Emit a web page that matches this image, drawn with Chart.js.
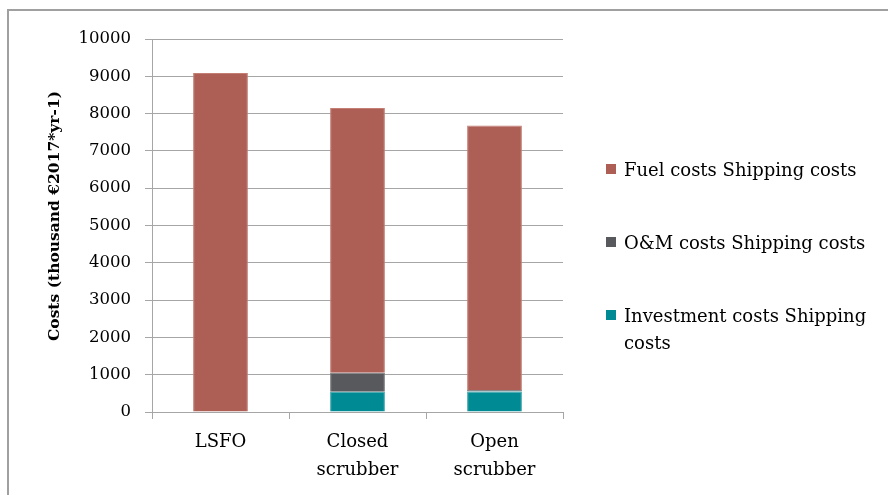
<!DOCTYPE html>
<html>
<head>
<meta charset="utf-8">
<script src="https://cdn.jsdelivr.net/npm/chart.js@4.4.1/dist/chart.umd.min.js"></script>
<style>
  body { margin: 0; background: #fff; }
  #wrap { position: relative; width: 888px; height: 495px; overflow: hidden; }
  #frame { position: absolute; left: 7px; top: 9px; width: 900px; height: 500px; border-left: 2px solid #a0a0a0; border-top: 2px solid #a0a0a0; box-sizing: border-box; }
  #legend { position: absolute; left: 606px; top: 0; font-family: "DejaVu Serif", serif; font-size: 18px; color: #000; }
  .item { position: absolute; left: 0; white-space: nowrap; }
  .item .box { position: absolute; left: 0; width: 10px; height: 10px; }
  .item .txt { position: absolute; left: 18px; line-height: 27px; }
</style>
</head>
<body>
<div id="wrap">
  <div id="frame"></div>
  <canvas id="costChart" width="888" height="495"></canvas>
  <div id="legend"></div>
</div>
<script>
// categories and values (thousand €2017 per year)
const categories = ['LSFO', ['Closed', 'scrubber'], ['Open', 'scrubber']];
const investmentCosts = [0, 540, 550];
const omCosts = [0, 510, 40];
const fuelCosts = [9090, 7100, 7090];
const yTicks = [0, 1000, 2000, 3000, 4000, 5000, 6000, 7000, 8000, 9000, 10000];
const yTitle = 'Costs (thousand €2017*yr-1)';

const colors = {
    investment: '#008a93',
    om: '#58595c',
    fuel: '#ad5f55'
};
const edges = {
    investment: '#3aa4ab',
    om: '#77787b',
    fuel: '#c47e74'
};

const gridGrey = '#a6a6a6';

const data = {
    labels: categories,
    datasets: [
        { label: 'Investment costs Shipping costs', data: investmentCosts, backgroundColor: colors.investment, borderColor: edges.investment },
        { label: 'O&M costs Shipping costs', data: omCosts, backgroundColor: colors.om, borderColor: edges.om },
        { label: 'Fuel costs Shipping costs', data: fuelCosts, backgroundColor: colors.fuel, borderColor: edges.fuel }
    ]
};

// y axis title, sits a bit above the middle of the axis like the original
const yTitlePlugin = {
    id: 'yTitle',
    afterDraw(chart) {
        const ctx = chart.ctx;
        ctx.save();
        ctx.translate(55, 216);
        ctx.rotate(-Math.PI / 2);
        ctx.font = 'bold 15.5px "DejaVu Serif"';
        ctx.fillStyle = '#000';
        ctx.textAlign = 'center';
        ctx.textBaseline = 'middle';
        ctx.fillText(yTitle, 0, 0);
        ctx.restore();
    }
};

const chart = new Chart(document.getElementById('costChart'), {
    type: 'bar',
    data: data,
    plugins: [yTitlePlugin],
    options: {
        responsive: false,
        animation: false,
        layout: { padding: { top: 39, right: 325, left: 0, bottom: 0 } },
        datasets: { bar: { categoryPercentage: 1, barPercentage: 0.4, borderWidth: 1 } },
        plugins: { legend: { display: false }, tooltip: { enabled: false } },
        scales: {
            x: {
                stacked: true,
                grid: { offset: true, drawOnChartArea: false, color: gridGrey, tickLength: 7 },
                border: { color: gridGrey },
                ticks: {
                    color: '#000',
                    padding: 9,
                    font: { family: 'DejaVu Serif', size: 18, lineHeight: 1.55 },
                    maxRotation: 0
                },
                afterFit: s => { s.height = 83; }
            },
            y: {
                stacked: true,
                min: 0,
                max: 10000,
                afterBuildTicks: s => { s.ticks = yTicks.map(v => ({ value: v })); },
                grid: { color: gridGrey, tickLength: 7 },
                border: { color: gridGrey },
                ticks: {
                    color: '#000',
                    padding: 14,
                    font: { family: 'DejaVu Serif', size: 16.5 },
                    callback: v => String(v)
                },
                afterFit: s => { s.width = 152; }
            }
        }
    }
});

// legend on the right, fuel first
const legendTop = [169, 242, 315];
const legend = document.getElementById('legend');
data.datasets.slice().reverse().forEach((ds, i) => {
    const item = document.createElement('div');
    item.className = 'item';
    item.style.top = legendTop[i] + 'px';
    const box = document.createElement('div');
    box.className = 'box';
    box.style.background = ds.backgroundColor;
    box.style.top = '-5px';
    const txt = document.createElement('div');
    txt.className = 'txt';
    txt.style.top = '-13.5px';
    txt.innerHTML = ds.label === 'Investment costs Shipping costs'
        ? 'Investment costs Shipping<br>costs'
        : ds.label.replace('&', '&amp;');
    item.appendChild(box);
    item.appendChild(txt);
    legend.appendChild(item);
});
</script>
</body>
</html>
